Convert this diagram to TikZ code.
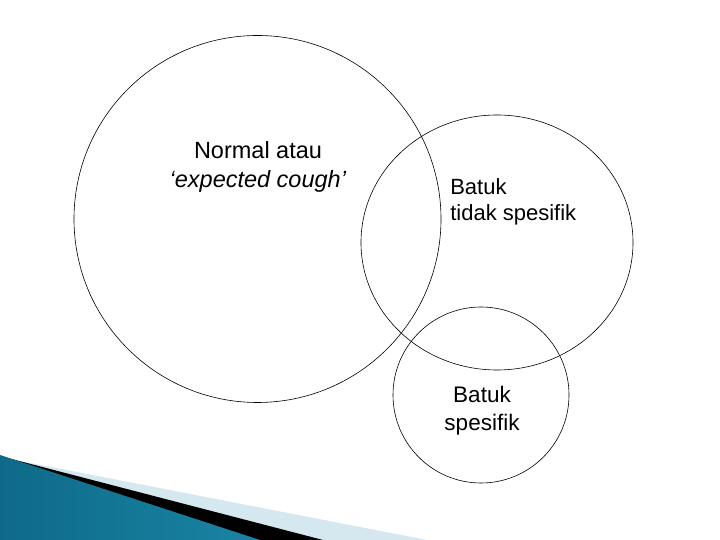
\documentclass[tikz,border=0pt]{standalone}
\usepackage{fontspec}
\setmainfont{Liberation Sans}
\usetikzlibrary{calc}

\definecolor{tealdark}{RGB}{14,106,136}
\definecolor{teallight}{RGB}{98,194,228}
\definecolor{tealend}{RGB}{26,132,164}
\definecolor{stripe}{RGB}{214,232,239}

\begin{document}
\begin{tikzpicture}[x=1pt,y=1pt,line width=.6pt]
			\newcommand{\rnormal}{183.5}
			\newcommand{\rtidakx}{136}%tidak spesifik is a bit squashed
			\newcommand{\rtidaky}{127.5}
			\newcommand{\rspes}{88}
			
			\useasboundingbox (0,0) rectangle (720,540);
			
			% swoosh in the corner
			\fill[stripe] (0,83)--(427,0)--(0,0)--cycle;
			\fill[black] (0,84)--(323,0)--(0,0)--cycle;
			\shade[left color=tealdark, middle color=teallight, right color=tealend] (0,85)--(260,0)--(0,0)--cycle;
			
			\coordinate (normal) at (257.5,321);
			\coordinate (tidak) at (497,297.5);
			\coordinate (spes) at (481,145);
			
			\draw (normal) circle [radius=\rnormal];
			\draw (tidak) ellipse [x radius=\rtidakx, y radius=\rtidaky];
			\draw (spes) circle [radius=\rspes];
			
			\node[inner sep=0, align=center, font=\fontsize{23.5}{28.5}\selectfont] (lblnormal) at (258,373)
				{Normal atau\\\textit{‘expected cough’}};
			\node[inner sep=0, align=left, anchor=west, font=\fontsize{22}{26}\selectfont] (lbltidak) at (450,338.5)
				{Batuk\\tidak spesifik};
			\node[inner sep=0, align=center, font=\fontsize{22.5}{28}\selectfont] (lblspes) at (482,129)
				{Batuk\\spesifik};
		
		\end{tikzpicture}
\end{document}
